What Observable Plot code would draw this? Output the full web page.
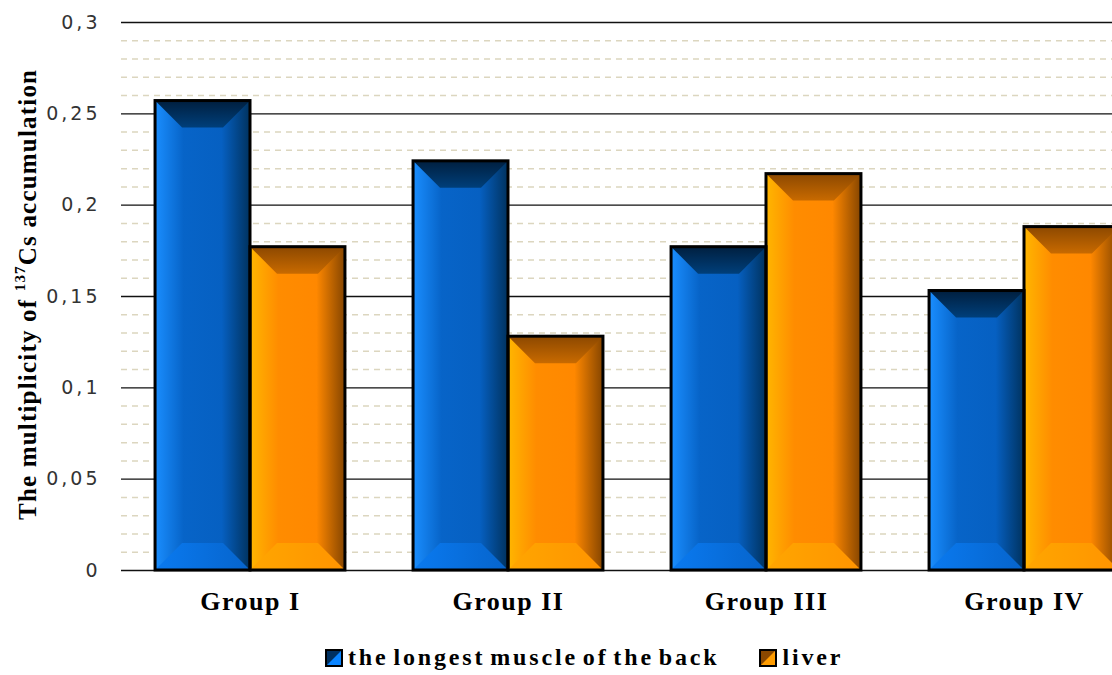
<!DOCTYPE html>
<html>
<head>
<meta charset="utf-8">
<script src="https://cdn.jsdelivr.net/npm/d3@7"></script>
<script src="https://cdn.jsdelivr.net/npm/@observablehq/plot@0.6"></script>
<style>
  html, body { margin: 0; padding: 0; background: #fff; width: 1112px; height: 675px; overflow: hidden; }
  #chart svg { display: block; overflow: visible; }
  #chart text { font-family: "DejaVu Sans", sans-serif; }
  #chart g[aria-label="text"] text { font-size: 19px; letter-spacing: 3px; fill: #333; }
  #chart g[aria-label="x-axis tick label"] text {
    font-family: "Liberation Serif", serif; font-weight: bold; font-size: 26px; letter-spacing: 1.5px; fill: #000;
  }
  #legend {
    height: 35px; display: flex; align-items: center; padding-left: 325px;
    font-family: "Liberation Serif", serif; font-weight: bold; font-size: 24px; color: #000;
    letter-spacing: 2.85px; word-spacing: -4px;
  }
  #legend .item { display: flex; align-items: center; margin-right: 40px; }
  #legend .sw { width: 14px; height: 14px; border: 2px solid #000; margin-right: 5px; }
</style>
</head>
<body>
<div id="chart"></div>
<div id="legend"></div>
<script>
// Groups, series and the multiplicity of 137Cs accumulation per group
const groups = ["Group I", "Group II", "Group III", "Group IV"];
const series = ["the longest muscle of the back", "liver"];
const muscle = [0.257, 0.224, 0.177, 0.153];
const liver  = [0.177, 0.128, 0.217, 0.188];

// Y gridlines: labelled every 0.05, dashed minor lines every 0.01
const majorTicks = [0, 0.05, 0.1, 0.15, 0.2, 0.25, 0.3];
const minorTicks = [0.01, 0.02, 0.03, 0.04, 0.06, 0.07, 0.08, 0.09, 0.11, 0.12, 0.13, 0.14,
                    0.16, 0.17, 0.18, 0.19, 0.21, 0.22, 0.23, 0.24, 0.26, 0.27, 0.28, 0.29];

// Shading for each series: face gradient, top bevel, bottom bevel, legend swatch
const palette = {
  [series[0]]: {id: "muscle", face: ["#1a8eff", "#0764c8", "#0660c2", "#00325e"],
                top: ["#001f3f", "#003f7a"], bottom: ["#0a7af0", "#0664cc"], swatch: ["#003060", "#0a84ff"]},
  [series[1]]: {id: "liver", face: ["#ffb600", "#ff8c00", "#ff8800", "#854500"],
                top: ["#8c4800", "#c86a00"], bottom: ["#ffa600", "#ff9400"], swatch: ["#8a4800", "#ff9c00"]}
};

// Each group occupies one unit on x; its two bars sit side by side about the group centre
const barWidth = 0.368;
const rows = groups.flatMap((g, i) => [
  {group: g, pos: i, series: series[0], value: muscle[i], x1: i - barWidth, x2: i},
  {group: g, pos: i, series: series[1], value: liver[i], x1: i, x2: i + barWidth}
]);

const fmt = d => String(d).replace(".", ",");

const chart = Plot.plot({
  width: 1112,
  height: 640,
  marginTop: 22,
  marginBottom: 70,
  marginLeft: 121,
  marginRight: 0,
  style: {background: "transparent", overflow: "visible"},
  x: {domain: [-0.5, groups.length - 0.5], range: [121, 1153]},
  y: {domain: [0, 0.3], axis: null},
  color: {domain: series, range: series.map(s => `url(#face-${palette[s].id})`)},
  marks: [
    Plot.ruleY(minorTicks, {stroke: "#dcd6bf", strokeWidth: 1.5, strokeDasharray: "6,5"}),
    Plot.ruleY(majorTicks, {stroke: "#111", strokeWidth: 1.3}),
    Plot.text(majorTicks, {y: d => d, text: fmt, frameAnchor: "left", textAnchor: "end",
                           dx: -21, fontSize: 19, fill: "#333"}),
    Plot.rectY(rows, {x1: "x1", x2: "x2", y: "value", fill: "series"}),
    Plot.axisX({ticks: groups.map((g, i) => i), tickFormat: i => groups[i],
                tickSize: 0, tickPadding: 21, label: null})
  ]
});

document.getElementById("chart").append(chart);

// Gradients for the bevelled bars
const svg = d3.select(chart);
const defs = svg.insert("defs", ":first-child");
function gradient(id, colors, vertical) {
  const g = defs.append("linearGradient").attr("id", id)
    .attr("x1", 0).attr("y1", 0).attr("x2", vertical ? 0 : 1).attr("y2", vertical ? 1 : 0);
  const offsets = colors.length === 4 ? [0, 0.3, 0.7, 1] : [0, 1];
  colors.forEach((c, i) => g.append("stop").attr("offset", offsets[i]).attr("stop-color", c));
}
for (const s of series) {
  const p = palette[s];
  gradient(`face-${p.id}`, p.face, false);
  gradient(`top-${p.id}`, p.top, true);
  gradient(`bottom-${p.id}`, p.bottom, false);
}

// Bevel: darker top panel, lighter bottom panel, then a black outline
svg.selectAll('g[aria-label="rect"] rect').each(function () {
  const r = d3.select(this);
  const x = +r.attr("x"), y = +r.attr("y"), w = +r.attr("width"), h = +r.attr("height");
  const id = r.attr("fill").match(/face-(\w+)/)[1];
  const b = Math.min(27, h / 2, w / 2);
  const parent = d3.select(this.parentNode);
  parent.append("polygon")
    .attr("points", [[x, y], [x + w, y], [x + w - b, y + b], [x + b, y + b]].join(" "))
    .attr("fill", `url(#top-${id})`);
  parent.append("polygon")
    .attr("points", [[x, y + h], [x + w, y + h], [x + w - b, y + h - b], [x + b, y + h - b]].join(" "))
    .attr("fill", `url(#bottom-${id})`);
  parent.append("rect")
    .attr("x", x).attr("y", y).attr("width", w).attr("height", h)
    .attr("fill", "none").attr("stroke", "#000").attr("stroke-width", 3);
});

// Rotated y-axis title with a superscript mass number
const title = svg.append("text")
  .attr("transform", "translate(30,295) rotate(-90)")
  .attr("text-anchor", "middle")
  .attr("dominant-baseline", "middle")
  .style("font-family", '"Liberation Serif", serif')
  .style("font-weight", "bold")
  .style("font-size", "25px")
  .attr("fill", "#000")
  .attr("textLength", 450)
  .attr("lengthAdjust", "spacing");
title.append("tspan").text("The multiplicity of ");
title.append("tspan").attr("baseline-shift", "super").style("font-size", "15px").text("137");
title.append("tspan").text("Cs accumulation");

// Legend below the plot
const legend = d3.select("#legend");
for (const s of series) {
  const p = palette[s];
  const item = legend.append("div").attr("class", "item");
  item.append("div").attr("class", "sw")
    .style("background", `linear-gradient(to bottom right, ${p.swatch[0]} 48%, ${p.swatch[1]} 52%)`);
  item.append("span").text(s);
}
</script>
</body>
</html>
